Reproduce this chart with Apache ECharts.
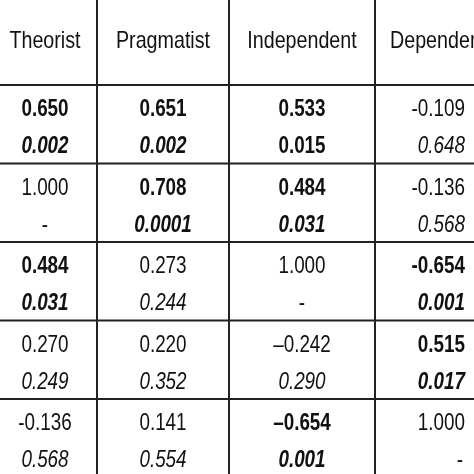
<!DOCTYPE html>
<html><head><meta charset="utf-8">
<script src="https://cdn.jsdelivr.net/npm/echarts@6/dist/echarts.min.js"></script>
<style>html,body{margin:0;padding:0;background:#fff}#c{width:474px;height:474px}</style>
</head><body><div id="c"></div>
<script>
const headers = ['Theorist','Pragmatist','Independent','Dependent'];
const rValues = [
  ['0.650','0.651','0.533','-0.109'],
  ['1.000','0.708','0.484','-0.136'],
  ['0.484','0.273','1.000','-0.654'],
  ['0.270','0.220','\u20130.242','0.515'],
  ['-0.136','0.141','\u20130.654','1.000']
];
const pValues = [
  ['0.002','0.002','0.015','0.648'],
  ['-','0.0001','0.031','0.568'],
  ['0.031','0.244','-','0.001'],
  ['0.249','0.352','0.290','0.017'],
  ['0.568','0.554','0.001','-']
];
const rStyles = [
  ['b','b','b','n'],
  ['n','b','b','n'],
  ['b','n','n','b'],
  ['n','n','n','b'],
  ['n','n','b','n']
];
const pStyles = [
  ['bi','bi','b','i'],
  ['n','bi','bi','i'],
  ['bi','i','n','bi'],
  ['i','i','i','bi'],
  ['i','i','bi','n']
];

// layout (pixels)
const colX = [45, 163, 302, 465];
const colAlign = ['center','center','center','right'];
const vLines = [97, 229, 375];
const headerBottom = 85, rowH = 78.5;
const FONT = '"Liberation Sans",Arial,sans-serif';

const cells = [];
rValues.forEach((row, r) => row.forEach((v, c) => cells.push([c, r])));

function txt(api, x, y, s, style, size, align) {
  const p = api.coord([x, y]);
  return {type:'text', x:p[0], y:p[1], scaleX:0.82,
    style:{x:0, y:0, text:s, fill:'#111',
    font:(style.includes('i')?'italic ':'') + (style.includes('b')?'bold ':'') + size + 'px ' + FONT,
    align:align, verticalAlign:'middle'}};
}

const chart = echarts.init(document.getElementById('c'));
chart.setOption({
  animation:false,
  grid:{left:0,right:0,top:0,bottom:0},
  xAxis:{type:'value',min:0,max:474,show:false},
  yAxis:{type:'value',min:0,max:474,inverse:true,show:false},
  series:[
    { type:'custom', data: headers.map((h,i)=>[i]),
      renderItem:(params, api)=>{
        const i = api.value(0);
        const a = i===3 ? 'left' : 'center';
        const x = i===3 ? 390 : colX[i];
        return txt(api, x, 41, headers[i], 'n', 24, a);
      }},
    { type:'custom', data: cells,
      renderItem:(params, api)=>{
        const c = api.value(0), r = api.value(1);
        const top = headerBottom + r*rowH;
        const ax = colX[c], al = colAlign[c];
        const kids = [txt(api, ax, top+25, rValues[r][c], rStyles[r][c], 23, al)];
        let px = ax, pal = al;
        if (pValues[r][c] === '-' && c===3) { px = 460; pal = 'center'; }
        kids.push(txt(api, px, top+62, pValues[r][c], pStyles[r][c], 23, pal));
        return {type:'group', children:kids};
      }},
    { type:'custom', data:[0],
      renderItem:(params, api)=>{
        const kids = [];
        for (let k=0;k<5;k++){
          const y = headerBottom + k*rowH;
          const a = api.coord([0,y]), b = api.coord([474,y]);
          kids.push({type:'line',shape:{x1:a[0],y1:a[1],x2:b[0],y2:b[1]},style:{stroke:'#222',lineWidth:2}});
        }
        vLines.forEach(x=>{
          const a = api.coord([x,0]), b = api.coord([x,474]);
          kids.push({type:'line',shape:{x1:a[0],y1:a[1],x2:b[0],y2:b[1]},style:{stroke:'#222',lineWidth:2}});
        });
        return {type:'group',children:kids};
      }}
  ]
});
</script></body></html>
